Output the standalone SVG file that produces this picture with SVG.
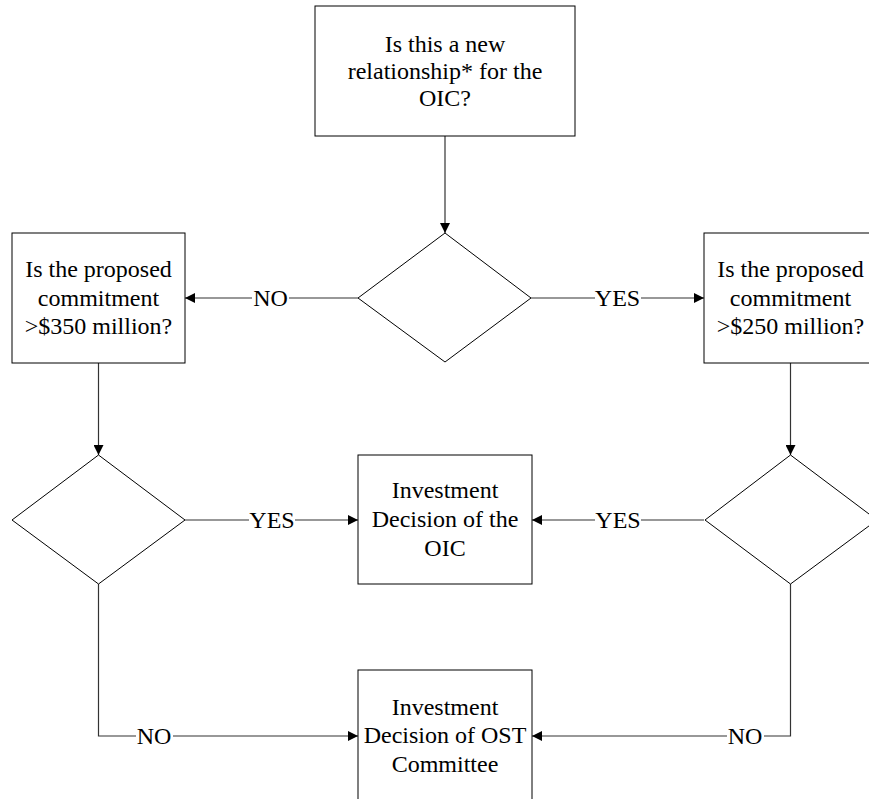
<svg xmlns="http://www.w3.org/2000/svg" width="869" height="799" viewBox="0 0 869 799">
<style>
.box{fill:#fff;stroke:#000;stroke-width:1}
text{font-family:'Liberation Serif','Times New Roman',serif;font-size:24px;fill:#000;text-anchor:middle}
.c{fill:none;stroke:#333;stroke-width:1.2}
.bg{fill:#fff}
</style>
<defs>
<marker id="ah" markerWidth="10" markerHeight="10" refX="10" refY="5" orient="auto" markerUnits="userSpaceOnUse">
<path d="M0,0 L10,5 L0,10 Z" fill="#000"/>
</marker>
</defs>
<rect width="869" height="799" fill="#fff"/>
<g id="connectors">
<line class="c" x1="445" y1="136" x2="445" y2="233" marker-end="url(#ah)"/>
<line class="c" x1="358" y1="298" x2="185" y2="298" marker-end="url(#ah)"/>
<line class="c" x1="531" y1="298" x2="704" y2="298" marker-end="url(#ah)"/>
<line class="c" x1="98.5" y1="363" x2="98.5" y2="455" marker-end="url(#ah)"/>
<line class="c" x1="790.5" y1="363" x2="790.5" y2="455" marker-end="url(#ah)"/>
<line class="c" x1="185" y1="520" x2="358" y2="520" marker-end="url(#ah)"/>
<line class="c" x1="704" y1="520" x2="532" y2="520" marker-end="url(#ah)"/>
<polyline class="c" points="98.5,584 98.5,736 358,736" marker-end="url(#ah)"/>
<polyline class="c" points="790.5,584 790.5,736 532,736" marker-end="url(#ah)"/>
<rect class="bg" x="252" y="286" width="37" height="24"/>
<text x="270.5" y="306">NO</text>
<rect class="bg" x="595" y="286" width="46" height="24"/>
<text x="617.5" y="306">YES</text>
<rect class="bg" x="249" y="508" width="46" height="24"/>
<text x="272" y="528">YES</text>
<rect class="bg" x="595" y="508" width="46" height="24"/>
<text x="618" y="528">YES</text>
<rect class="bg" x="136" y="724" width="37" height="24"/>
<text x="154" y="744">NO</text>
<rect class="bg" x="727" y="724" width="37" height="24"/>
<text x="745" y="744">NO</text>
</g>
<g id="start">
<rect class="box" x="315" y="6" width="260" height="130"/>
<text x="445" y="52">Is this a new</text>
<text x="445" y="79">relationship* for the</text>
<text x="445" y="106">OIC?</text>
</g>
<g id="decision1">
<polygon class="box" points="445,233 531,298 445,362 358,298"/>
</g>
<g id="left-question">
<rect class="box" x="12" y="233" width="173" height="130"/>
<text x="98.5" y="277">Is the proposed</text>
<text x="98.5" y="306">commitment</text>
<text x="98.5" y="334">&gt;$350 million?</text>
</g>
<g id="right-question">
<rect class="box" x="704" y="233" width="173" height="130"/>
<text x="790.5" y="277">Is the proposed</text>
<text x="790.5" y="306">commitment</text>
<text x="790.5" y="334">&gt;$250 million?</text>
</g>
<g id="decision-left">
<polygon class="box" points="98.5,455 185,520 98.5,584 12,520"/>
</g>
<g id="decision-right">
<polygon class="box" points="790.5,455 877,520 790.5,584 705,520"/>
</g>
<g id="oic-decision">
<rect class="box" x="358" y="455" width="174" height="129"/>
<text x="445" y="498">Investment</text>
<text x="445" y="527">Decision of the</text>
<text x="445" y="556">OIC</text>
</g>
<g id="ost-decision">
<rect class="box" x="358" y="670" width="174" height="140"/>
<text x="445" y="715">Investment</text>
<text x="445" y="743">Decision of OST</text>
<text x="445" y="772">Committee</text>
</g>
</svg>
